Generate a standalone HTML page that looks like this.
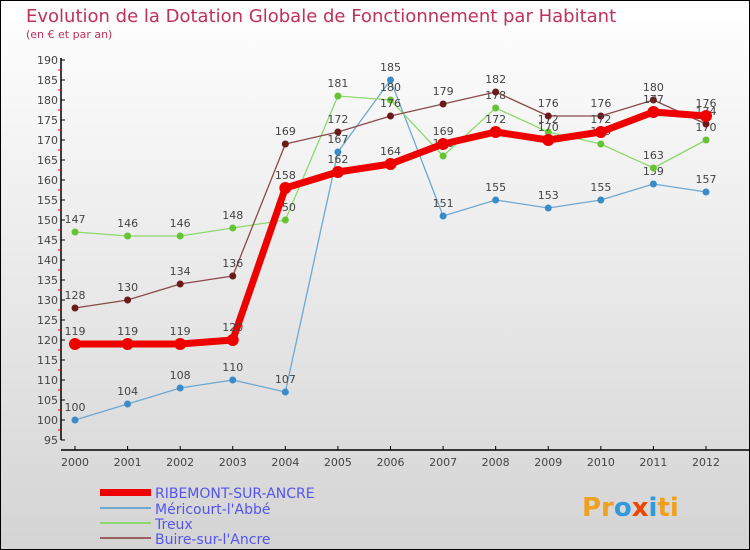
<!DOCTYPE html>
<html><head><meta charset="utf-8"><style>
body{margin:0}
#c{width:750px;height:550px;position:relative;overflow:hidden;font-family:"DejaVu Sans","Liberation Sans",sans-serif}
</style></head><body>
<div id="c">
<svg width="750" height="550" xmlns="http://www.w3.org/2000/svg" id="svg">
<defs><linearGradient id="bg" x1="0" y1="0" x2="0" y2="1"><stop offset="0" stop-color="#ffffff"/><stop offset="1" stop-color="#d4d4d4"/></linearGradient></defs>
<rect x="0.5" y="0.5" width="749" height="549" fill="url(#bg)" stroke="#000"/>
<text x="26" y="22" font-size="18" fill="#c0305a">Evolution de la Dotation Globale de Fonctionnement par Habitant</text>
<text x="26" y="38" font-size="11" fill="#c0305a">(en € et par an)</text>
<g id="axes"></g><g id="series"></g>
<g>
<rect x="100" y="489" width="51" height="7" fill="#ee0000"/>
<text x="155" y="498" font-size="14" fill="#5555ee">RIBEMONT-SUR-ANCRE</text>
<line x1="100" y1="508" x2="151" y2="508" stroke="#6fa8d0" stroke-width="2"/>
<text x="155" y="514" font-size="14" fill="#5555ee">Méricourt-l'Abbé</text>
<line x1="100" y1="523" x2="151" y2="523" stroke="#8ed870" stroke-width="2"/>
<text x="155" y="529" font-size="14" fill="#5555ee">Treux</text>
<line x1="100" y1="538" x2="151" y2="538" stroke="#9a6060" stroke-width="2"/>
<text x="155" y="544" font-size="14" fill="#5555ee">Buire-sur-l'Ancre</text>
</g>
<text x="582" y="516" font-size="26" font-weight="bold" fill="#f0a020">Pr<tspan fill="#3399dd">o</tspan><tspan fill="#ee4400">x</tspan><tspan fill="#3399dd">i</tspan>ti</text>
</svg></div>
<script>
const years=[2000,2001,2002,2003,2004,2005,2006,2007,2008,2009,2010,2011,2012];
const ribemont=[119,119,119,120,158,162,164,169,172,170,172,177,176];
const mericourt=[100,104,108,110,107,167,185,151,155,153,155,159,157];
const treux=[147,146,146,148,150,181,180,166,178,172,169,163,170];
const buire=[128,130,134,136,169,172,176,179,182,176,176,180,174];
const yTicks=[95,100,105,110,115,120,125,130,135,140,145,150,155,160,165,170,175,180,185,190];
const NS="http://www.w3.org/2000/svg";
const X=i=>75+i*(706-75)/(years.length-1);
const Y=v=>60+(190-v)*4;
function mk(t,a,p){const e=document.createElementNS(NS,t);for(const k in a)e.setAttribute(k,a[k]);p.appendChild(e);return e;}
const ax=document.getElementById('axes');
const ya=mk('line',{x1:61,y1:58,x2:61,y2:440,stroke:'#000','stroke-width':1.5},ax);


const xa=mk('line',{x1:61,y1:450,x2:750,y2:450,stroke:'#000','stroke-width':1.5},ax);


yTicks.forEach(v=>{
 mk('line',{x1:61,y1:Y(v),x2:65,y2:Y(v),stroke:'#000'},ax);
 if(v<190)mk('line',{x1:58,y1:Y(v+2.5),x2:61,y2:Y(v+2.5),stroke:'#e00'},ax);
 const t=mk('text',{x:58,y:Y(v)+4,'font-size':11,fill:'#444','text-anchor':'end'},ax);t.textContent=v;
 
 
});
years.forEach((y,i)=>{
 mk('line',{x1:X(i),y1:446,x2:X(i),y2:450,stroke:'#000'},ax);
 const t=mk('text',{x:X(i),y:466,'font-size':11,fill:'#444','text-anchor':'middle'},ax);t.textContent=y;
 
 
});
const sg=document.getElementById('series');
function series(d,col,w,r,name,dot){
 const g=mk('g',{},sg);
 
 
 mk('polyline',{points:d.map((v,i)=>X(i)+','+Y(v)).join(' '),fill:'none',stroke:col,'stroke-width':w,'stroke-linejoin':'round'},g);
 d.forEach((v,i)=>{
  const c=mk('circle',{cx:X(i),cy:Y(v),r:r,fill:dot},g);
  
  
  const t=mk('text',{x:X(i),y:Y(v)-9,'font-size':11,fill:'#444','text-anchor':'middle'},g);t.textContent=v;
 });
}
series(mericourt,'#6fa8d0',1.3,3.5,'mericourt','#3a8cc8');
series(treux,'#8ed870',1.3,3.5,'treux','#66c433');
series(buire,'#8a4a4a',1.3,3.5,'buire','#6a1a1a');
series(ribemont,'#ee0000',7,6,'ribemont','#ee0000');
</script>
</body></html>
